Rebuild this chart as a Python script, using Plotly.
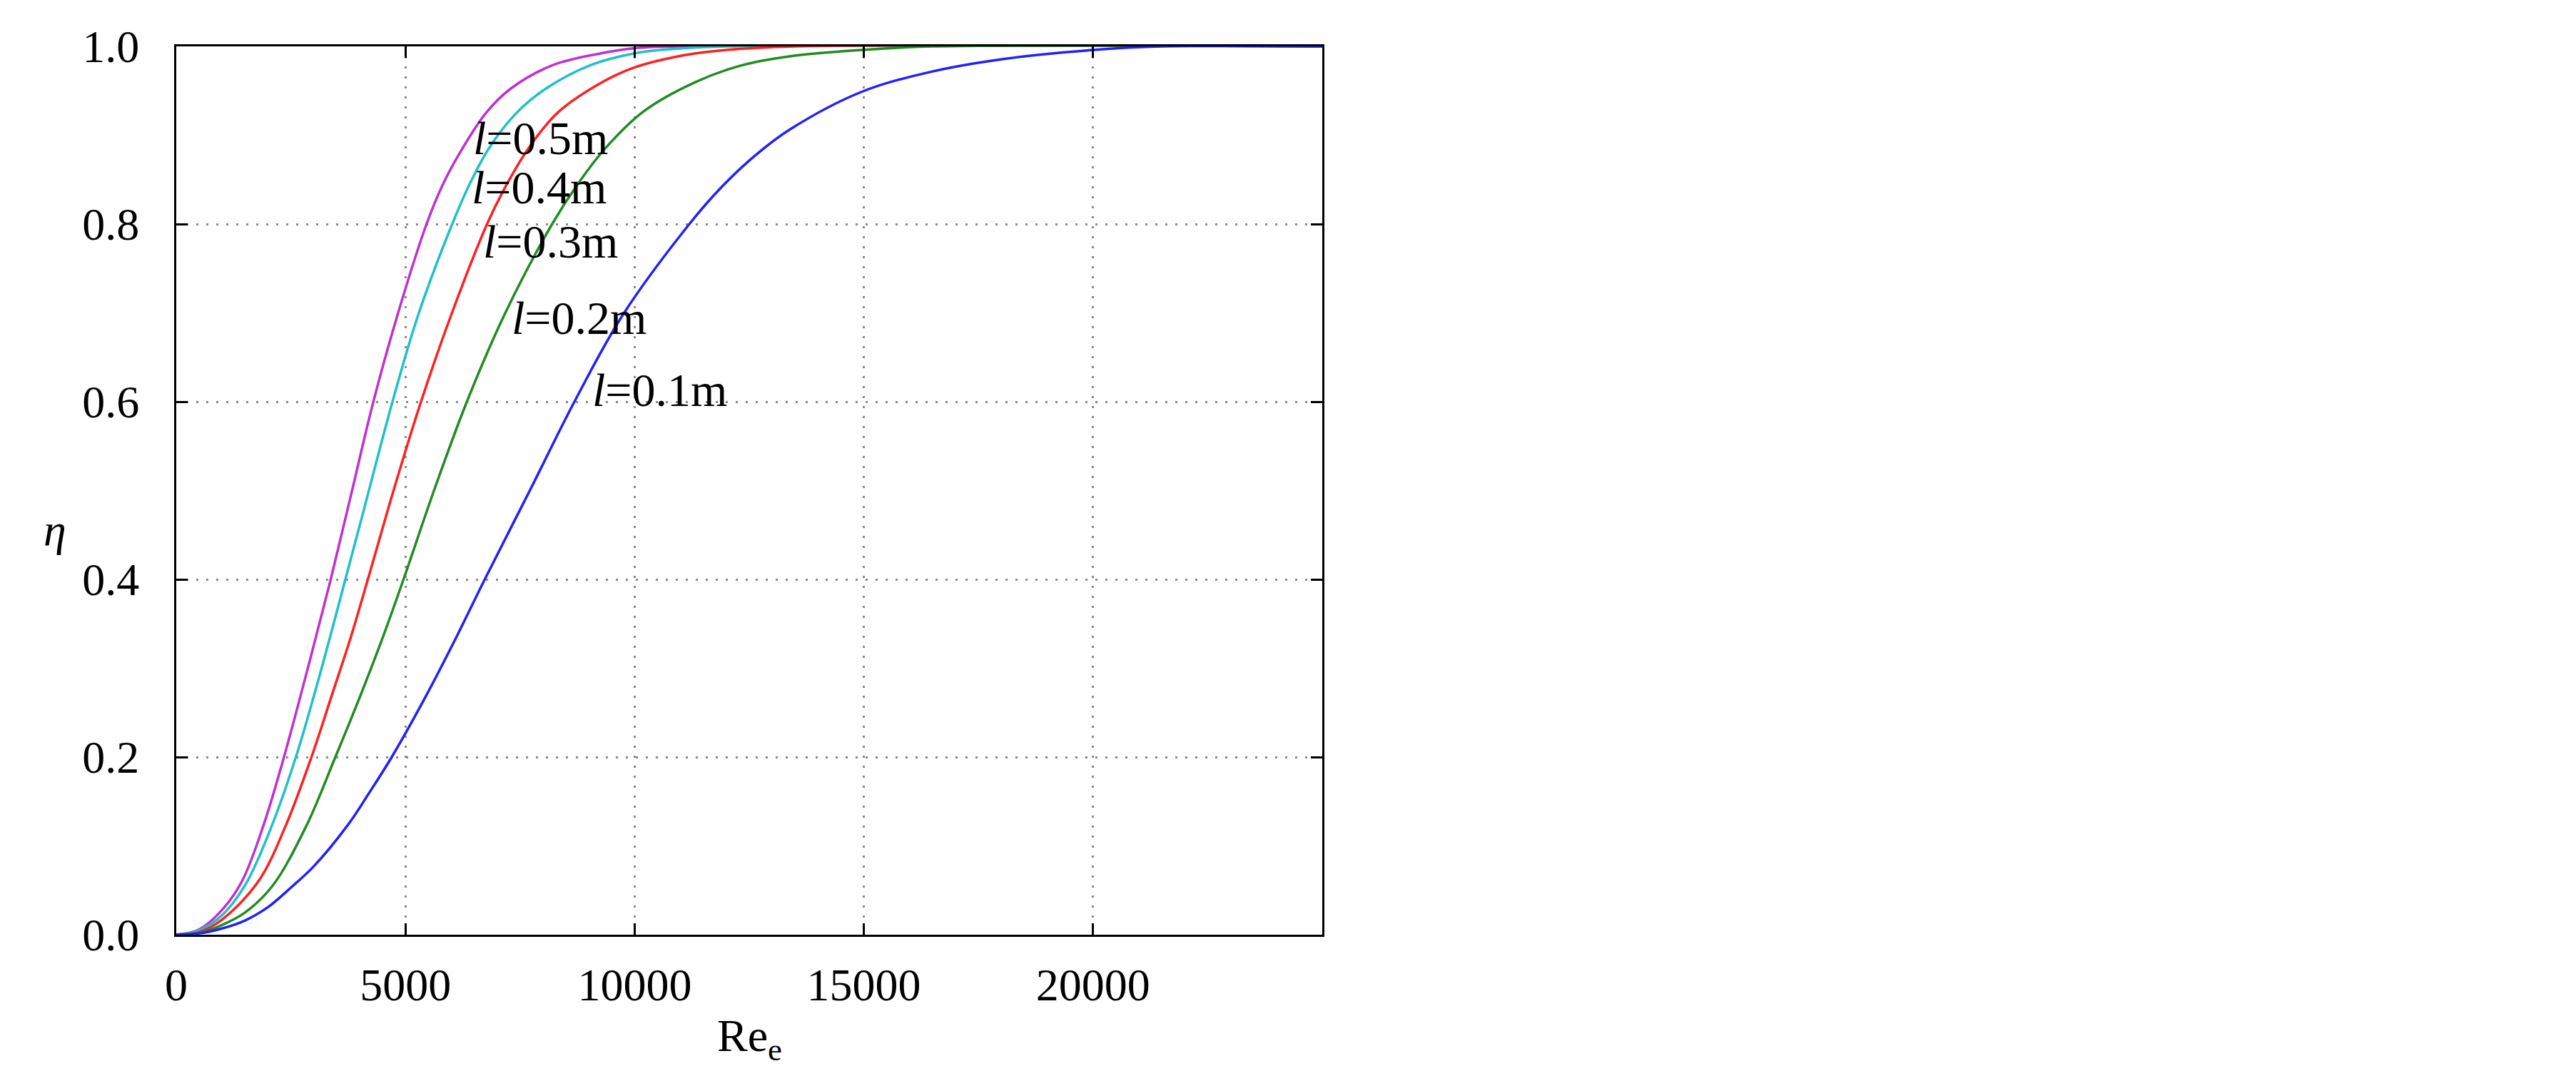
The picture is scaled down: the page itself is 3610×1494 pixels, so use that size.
import plotly.graph_objects as go

# ---- data ----
re_05 = [0, 500, 1000, 1432, 1915, 2350, 2870, 3370, 3835, 4300, 4840, 5460, 5820, 6242, 6756, 7285, 8219, 9247, 10000, 11000, 25000]
eta_05 = [0, 0.006, 0.028, 0.06, 0.125, 0.2, 0.3, 0.4, 0.5, 0.6, 0.7, 0.8, 0.845, 0.885, 0.925, 0.952, 0.979, 0.992, 0.998, 1.0, 1.0]

re_04 = [0, 500, 1000, 1526, 2102, 2610, 3004, 3360, 3689, 4050, 4717, 5280, 6020, 6400, 6818, 7420, 8050, 9044, 9978, 10803, 12000, 25000]
eta_04 = [0, 0.005, 0.022, 0.058, 0.125, 0.2, 0.269, 0.336, 0.4, 0.47, 0.6, 0.698, 0.8, 0.845, 0.885, 0.925, 0.952, 0.979, 0.992, 0.997, 1.0, 1.0]

re_03 = [0, 500, 1000, 1790, 2382, 2950, 3390, 3814, 4180, 4763, 5339, 6000, 6780, 7150, 7680, 8313, 9200, 9978, 11068, 12000, 13500, 25000]
eta_03 = [0, 0.003, 0.017, 0.06, 0.122, 0.2, 0.269, 0.336, 0.4, 0.504, 0.6, 0.698, 0.8, 0.839, 0.885, 0.925, 0.957, 0.976, 0.990, 0.996, 1.0, 1.0]

re_02 = [0, 500, 1000, 1500, 2100, 2833, 3471, 4016, 4515, 4958, 5650, 6340, 7160, 8200, 8760, 9356, 10200, 11333, 12360, 13403, 14960, 16500, 25000]
eta_02 = [0, 0.002, 0.011, 0.025, 0.055, 0.122, 0.2, 0.269, 0.336, 0.4, 0.504, 0.6, 0.698, 0.8, 0.845, 0.885, 0.927, 0.960, 0.979, 0.989, 0.996, 1.0, 1.0]

re_01 = [0, 500, 1000, 1500, 2000, 2500, 3000, 3750, 4200, 4701, 5450, 6120, 6730, 7752, 8686, 9745, 11193, 11847, 12625, 13403, 14960, 16516, 18073, 20000, 21500, 25000]
eta_01 = [0, 0.0015, 0.007, 0.016, 0.031, 0.053, 0.077, 0.124, 0.159, 0.2, 0.269, 0.336, 0.4, 0.504, 0.6, 0.698, 0.8, 0.839, 0.877, 0.907, 0.949, 0.972, 0.986, 0.996, 1.0, 1.0]

series_names = ["l=0.5m", "l=0.4m", "l=0.3m", "l=0.2m", "l=0.1m"]
label_text = ["<i>l</i>=0.5m", "<i>l</i>=0.4m", "<i>l</i>=0.3m", "<i>l</i>=0.2m", "<i>l</i>=0.1m"]
label_x = [6445, 6414, 6663, 7285, 9044]
label_y = [0.897, 0.841, 0.780, 0.694, 0.613]

x_ticks = [0, 5000, 10000, 15000, 20000]
y_ticks = [0.0, 0.2, 0.4, 0.6, 0.8, 1.0]

colors = ["#c030d0", "#20c0c8", "#ff2020", "#228b22", "#2020ff"]
xs = [re_05, re_04, re_03, re_02, re_01]
ys = [eta_05, eta_04, eta_03, eta_02, eta_01]

FONT = "Liberation Serif"

fig = go.Figure()
for name, x, y, c in zip(series_names, xs, ys, colors):
    fig.add_trace(go.Scatter(x=x, y=y, mode="lines", name=name,
                             line=dict(color=c, width=3.5, shape="spline", smoothing=1.0)))

for t, lx, ly in zip(label_text, label_x, label_y):
    fig.add_annotation(x=lx, y=ly, xref="x", yref="y", text=t, showarrow=False,
                       xanchor="left", yanchor="middle",
                       font=dict(family=FONT, size=66, color="black"))

W, H = 3610, 1494
L, R, T, B = 239, 1765, 57, 192
pw, ph = W - L - R, H - T - B

# axis titles (placed in paper coordinates)
fig.add_annotation(x=(1042 - L) / pw, xref="paper", y=(H - B - 1448) / ph, yref="paper",
                   text="Re<sub>e</sub>", showarrow=False, xanchor="center", yanchor="middle",
                   font=dict(family=FONT, size=64, color="black"))
fig.add_annotation(x=(69 - L) / pw, xref="paper", y=(H - B - 735) / ph, yref="paper",
                   text="<i>η</i>", showarrow=False, xanchor="center", yanchor="middle",
                   font=dict(family=FONT, size=64, color="black"))

axis_common = dict(showline=True, linecolor="black", linewidth=3, mirror="ticks",
                   ticks="inside", ticklen=16, tickwidth=3, tickcolor="black",
                   showgrid=True, gridcolor="#8a8a8a", gridwidth=3, griddash="3px,11px",
                   zeroline=False,
                   tickfont=dict(family=FONT, size=64, color="black"))

fig.update_layout(
    width=W, height=H,
    paper_bgcolor="white", plot_bgcolor="white",
    showlegend=False,
    margin=dict(l=L, r=R, t=T, b=B),
    xaxis=dict(range=[0, 25000], tickvals=x_ticks, ticktext=[str(v) for v in x_ticks],
               ticklabelstandoff=12, **axis_common),
    yaxis=dict(range=[0, 1.0], tickvals=y_ticks, ticktext=[f"{v:.1f}" for v in y_ticks],
               ticklabelstandoff=36, **axis_common),
)

fig.write_html("out.html")
